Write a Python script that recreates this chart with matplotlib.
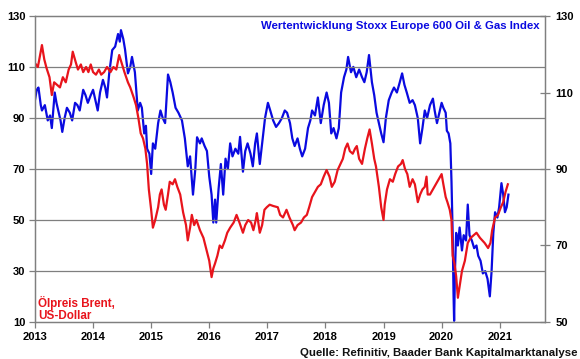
import matplotlib
matplotlib.use("Agg")
import matplotlib.pyplot as plt

# Brent oil price (US-Dollar, left axis)
brent_t = [2013.00, 2013.05, 2013.10, 2013.12, 2013.16, 2013.20, 2013.25, 2013.29, 2013.33, 2013.38,
           2013.43, 2013.48, 2013.53, 2013.58, 2013.62, 2013.65, 2013.70, 2013.74, 2013.79, 2013.83,
           2013.88, 2013.92, 2013.96, 2014.00, 2014.05, 2014.10, 2014.14, 2014.19, 2014.24, 2014.30,
           2014.35, 2014.40, 2014.45, 2014.50, 2014.54, 2014.60, 2014.64, 2014.70, 2014.74, 2014.78,
           2014.82, 2014.86, 2014.90, 2014.93, 2014.96, 2015.00, 2015.03, 2015.07, 2015.12, 2015.15,
           2015.18, 2015.22, 2015.25, 2015.29, 2015.32, 2015.37, 2015.41, 2015.45, 2015.50, 2015.55,
           2015.60, 2015.63, 2015.67, 2015.70, 2015.74, 2015.78, 2015.84, 2015.90, 2015.96, 2016.00,
           2016.04, 2016.07, 2016.10, 2016.14, 2016.18, 2016.22, 2016.27, 2016.31, 2016.36, 2016.42,
           2016.47, 2016.52, 2016.58, 2016.62, 2016.67, 2016.72, 2016.76, 2016.80, 2016.82, 2016.87,
           2016.91, 2016.95, 2016.99, 2017.04, 2017.10, 2017.18, 2017.22, 2017.27, 2017.33, 2017.38,
           2017.44, 2017.47, 2017.52, 2017.58, 2017.63, 2017.68, 2017.72, 2017.77, 2017.82, 2017.87,
           2017.92, 2017.97, 2018.02, 2018.07, 2018.11, 2018.16, 2018.21, 2018.26, 2018.30, 2018.34,
           2018.38, 2018.42, 2018.47, 2018.51, 2018.54, 2018.58, 2018.63, 2018.68, 2018.72, 2018.76,
           2018.80, 2018.84, 2018.87, 2018.92, 2018.96, 2019.00, 2019.02, 2019.06, 2019.11, 2019.16,
           2019.20, 2019.25, 2019.30, 2019.33, 2019.37, 2019.41, 2019.45, 2019.50, 2019.54, 2019.59,
           2019.63, 2019.67, 2019.71, 2019.74, 2019.76, 2019.80, 2019.85, 2019.90, 2019.95, 2020.00,
           2020.03, 2020.07, 2020.10, 2020.14, 2020.17, 2020.19, 2020.22, 2020.25, 2020.28, 2020.31,
           2020.35, 2020.40, 2020.45, 2020.50, 2020.55, 2020.60, 2020.66, 2020.70, 2020.74, 2020.80,
           2020.84, 2020.87, 2020.92, 2020.97, 2021.02, 2021.06, 2021.10, 2021.14]
brent_v = [111.5, 110, 116, 118.6, 113, 109.5, 106, 99, 104, 103,
           102, 106, 104, 109, 111, 116, 112, 109, 111, 108,
           110, 108, 111, 108, 107, 109, 107, 108, 110, 108,
           110, 109, 114.7, 111, 108, 104, 102, 98, 95, 90,
           84, 82, 78, 72, 62, 54, 47, 50, 55, 60,
           62, 56, 54, 60, 65, 64, 66, 63, 60, 53,
           48, 42, 47, 52, 48, 50, 46, 43, 37.5, 34,
           27.6, 31, 33, 36, 40, 39, 42, 45, 47, 49,
           52, 49, 45, 48, 50, 49, 46, 50, 52.7, 45,
           48, 54, 55, 56, 55.5, 55, 52, 51, 54, 51,
           48, 46, 48, 49, 51, 52, 55, 59, 61, 63,
           64, 67, 69.6, 67, 63, 65, 69.6, 72, 74, 78,
           80, 77, 76, 78, 79, 74, 72, 78, 82, 85.5,
           80, 74, 71, 63, 55, 50, 56, 62, 66, 65,
           68, 71, 72, 73.5, 70, 68, 63, 66, 64, 57,
           60, 62, 63, 67, 60, 60, 62, 64, 66, 68,
           64, 59, 57, 54, 50, 36, 33, 28, 19.5, 24,
           30, 34, 41, 43, 44, 45, 43, 42, 41, 39,
           41, 46, 51, 52, 55, 57, 61, 64]

# Stoxx Europe 600 Oil & Gas Index performance (right axis)
stoxx_t = [2013.00, 2013.03, 2013.06, 2013.10, 2013.12, 2013.17, 2013.22, 2013.26, 2013.29, 2013.34,
           2013.37, 2013.40, 2013.44, 2013.47, 2013.51, 2013.55, 2013.60, 2013.64, 2013.69, 2013.73,
           2013.77, 2013.83, 2013.87, 2013.91, 2013.96, 2014.00, 2014.04, 2014.08, 2014.12, 2014.17,
           2014.21, 2014.24, 2014.28, 2014.33, 2014.38, 2014.43, 2014.46, 2014.48, 2014.52, 2014.55,
           2014.60, 2014.64, 2014.67, 2014.72, 2014.77, 2014.81, 2014.84, 2014.88, 2014.91, 2014.93,
           2014.97, 2015.00, 2015.03, 2015.07, 2015.12, 2015.16, 2015.20, 2015.24, 2015.29, 2015.33,
           2015.37, 2015.42, 2015.47, 2015.53, 2015.58, 2015.63, 2015.67, 2015.72, 2015.76, 2015.79,
           2015.84, 2015.87, 2015.92, 2015.96, 2016.00, 2016.04, 2016.07, 2016.10, 2016.12, 2016.16,
           2016.20, 2016.24, 2016.28, 2016.32, 2016.36, 2016.40, 2016.45, 2016.50, 2016.53, 2016.58,
           2016.62, 2016.66, 2016.71, 2016.75, 2016.79, 2016.82, 2016.87, 2016.91, 2016.96, 2017.01,
           2017.05, 2017.10, 2017.15, 2017.20, 2017.25, 2017.30, 2017.34, 2017.39, 2017.43, 2017.47,
           2017.52, 2017.56, 2017.60, 2017.65, 2017.70, 2017.74, 2017.77, 2017.82, 2017.87, 2017.92,
           2017.97, 2018.02, 2018.06, 2018.10, 2018.14, 2018.19, 2018.23, 2018.27, 2018.32, 2018.36,
           2018.39, 2018.44, 2018.48, 2018.53, 2018.58, 2018.63, 2018.67, 2018.71, 2018.75, 2018.80,
           2018.84, 2018.88, 2018.92, 2018.96, 2019.00, 2019.04, 2019.09, 2019.14, 2019.18, 2019.23,
           2019.28, 2019.32, 2019.36, 2019.40, 2019.45, 2019.50, 2019.54, 2019.59, 2019.63, 2019.67,
           2019.71, 2019.75, 2019.80, 2019.85, 2019.88, 2019.92, 2019.96, 2020.00, 2020.03, 2020.07,
           2020.09, 2020.12, 2020.15, 2020.17, 2020.19, 2020.205, 2020.215, 2020.23, 2020.25, 2020.28,
           2020.31, 2020.35, 2020.38, 2020.42, 2020.45, 2020.48, 2020.52, 2020.56, 2020.60, 2020.63,
           2020.67, 2020.71, 2020.75, 2020.79, 2020.83, 2020.86, 2020.89, 2020.92, 2020.96, 2020.99,
           2021.03, 2021.06, 2021.09, 2021.12, 2021.15]
stoxx_v = [108, 110.7, 111.3, 106.7, 105.3, 106.7, 102.7, 104, 100.7, 110,
           107.3, 105.3, 102.7, 99.7, 103.3, 106, 104.7, 102.7, 107.3, 106.7,
           105.3, 110.7, 109.3, 107.3, 109.3, 110.7, 108, 105.3, 110, 113.3,
           111.3, 108.7, 115.3, 121.1, 122, 125.3, 123.3, 126.3, 124, 121.3,
           115, 116.7, 119.3, 115.3, 105.3, 107.3, 106, 99.3, 101.3, 95.3,
           94, 88.7, 96.7, 95.3, 102, 105.3, 103.3, 102, 114.7, 112.7,
           110, 106, 104.7, 102.7, 98, 90.7, 93.3, 83.3, 90, 98.3,
           96.7, 98, 96, 94.7, 88, 83.3, 76, 82, 76, 84.7,
           91.3, 83.3, 92.7, 90, 96.7, 93.3, 95.3, 94, 98.4, 89.3,
           94.7, 96.7, 94, 90.7, 96.7, 99.3, 91.3, 96.7, 103.3, 107.3,
           105.3, 102.7, 101, 102, 103.3, 105.3, 104.7, 102, 98, 96,
           98, 95.3, 93.3, 95.3, 100.7, 102.7, 105.3, 104, 108.7, 102,
           106.7, 110, 107.3, 99.3, 100.7, 98, 100.7, 110, 114, 116,
           119.3, 115.3, 116.7, 114, 116, 114, 112.7, 115.3, 119.8, 112.7,
           109.3, 104.7, 102, 99.3, 97, 103.3, 108, 110, 111.3, 110,
           112.7, 115, 112, 110, 107.3, 108, 106.7, 103.3, 96.7, 100.7,
           105.3, 103.3, 106.7, 108.4, 105.3, 102, 104.7, 107.3, 106, 104.7,
           100, 99.3, 96.7, 86.7, 73.3, 57.3, 50.3, 63.3, 73.3, 70,
           74.7, 68.7, 72.7, 71.3, 80.7, 72.7, 71.3, 69.3, 70, 67.3,
           66, 62.7, 63.3, 61.3, 56.7, 63.3, 73.3, 78.7, 77.3, 80,
           86.3, 83.3, 78.7, 80, 83.3]

years = [2013, 2014, 2015, 2016, 2017, 2018, 2019, 2020, 2021]
left_ticks = [10, 30, 50, 70, 90, 110, 130]
right_ticks = [50, 70, 90, 110, 130]

plt.rcParams['font.family'] = ['Liberation Sans', 'DejaVu Sans']
plt.rcParams['font.weight'] = 'bold'

RED = '#e8141c'
BLUE = '#0a0ae0'
GRID = '#7f7f7f'

fig = plt.figure(figsize=(5.80, 3.59), dpi=100)
ax = fig.add_axes([0.0603, 0.1031, 0.8794, 0.8523])
ax2 = ax.twinx()

ax.set_zorder(ax2.get_zorder() + 1)
ax.patch.set_visible(False)

ax2.plot(stoxx_t, stoxx_v, color=BLUE, lw=1.6, solid_joinstyle='round')
ax.plot(brent_t, brent_v, color=RED, lw=1.6, solid_joinstyle='round')

ax.set_xlim(2013, 2021.78)
ax.set_ylim(10, 130)
ax2.set_ylim(50, 130)

ax.set_xticks(years)
ax.set_xticklabels([str(y) for y in years])
ax.set_yticks(left_ticks)
ax2.set_yticks(right_ticks)

for y in left_ticks[1:-1]:
    ax.axhline(y, color=GRID, lw=0.9, zorder=0)

for a in (ax, ax2):
    for s in a.spines.values():
        s.set_color(GRID)
        s.set_linewidth(0.9)

ax.tick_params(axis='x', direction='out', length=4, width=0.9, color=GRID,
               labelsize=8, pad=3)
ax.tick_params(axis='y', direction='out', length=4, width=0.9, color=GRID,
               labelsize=8, pad=3)
ax2.tick_params(axis='y', direction='inout', length=7, width=0.9, color=GRID,
                labelsize=8, pad=4)
for lab in ax.get_xticklabels() + ax.get_yticklabels() + ax2.get_yticklabels():
    lab.set_fontweight('bold')

ax.text(0.990, 0.985, 'Wertentwicklung Stoxx Europe 600 Oil & Gas Index',
        transform=ax.transAxes, ha='right', va='top', color=BLUE,
        fontsize=8.2, fontweight='bold')
ax.text(0.006, 0.0, 'Ölpreis Brent,\nUS-Dollar', transform=ax.transAxes,
        ha='left', va='bottom', color=RED, fontsize=8.4, fontweight='bold',
        linespacing=1.05)
fig.text(0.995, 0.004, 'Quelle: Refinitiv, Baader Bank Kapitalmarktanalyse',
         ha='right', va='bottom', fontsize=8.2, fontweight='bold', color='#111111')

fig.savefig('out.png', dpi=100)
